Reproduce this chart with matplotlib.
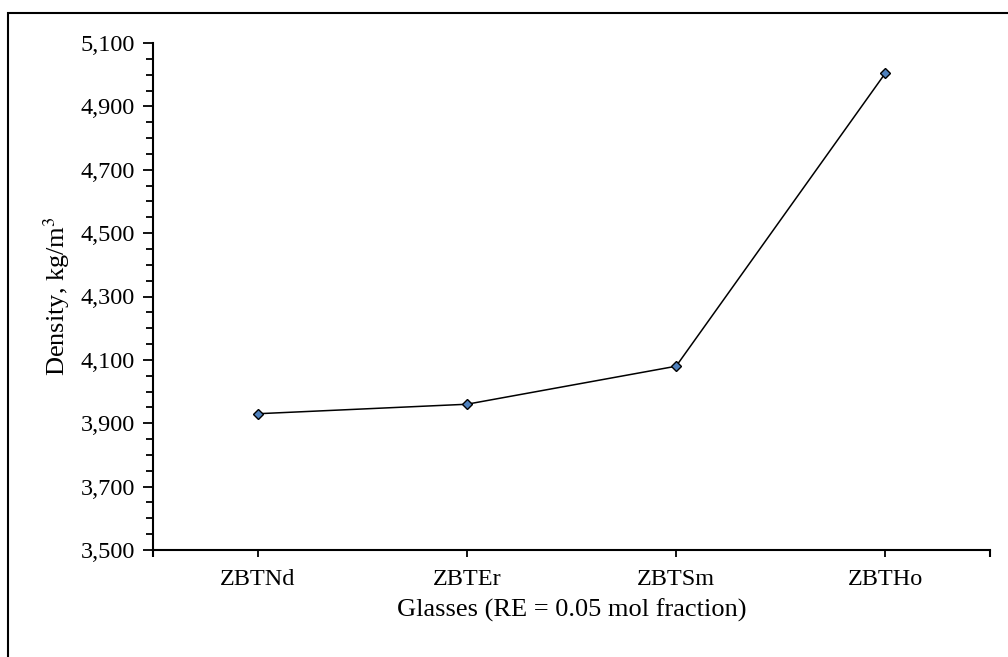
import matplotlib.pyplot as plt
from matplotlib.ticker import MultipleLocator, FuncFormatter
from matplotlib.patches import Rectangle

glasses = ['ZBTNd', 'ZBTEr', 'ZBTSm', 'ZBTHo']
density = [3930, 3960, 4080, 5005]
yticks = [3500, 3700, 3900, 4100, 4300, 4500, 4700, 4900, 5100]

plt.rcParams['font.family'] = ['Liberation Serif', 'DejaVu Serif']
plt.rcParams['mathtext.fontset'] = 'stix'

fig = plt.figure(figsize=(10.08, 6.57), dpi=100)
ax = fig.add_axes([153 / 1008, 1 - 550 / 657, (990 - 153) / 1008, (550 - 43) / 657])

x = range(len(glasses))
ax.plot(x, density, color='black', lw=1.1, marker='D', ms=5,
        markerfacecolor='#4f81bd', markeredgecolor='black', markeredgewidth=1)

ax.set_xlim(-0.5, len(glasses) - 0.5)
ax.set_ylim(yticks[0], yticks[-1])
ax.set_xticks(list(x))
ax.set_xticklabels(glasses)
# end tick at the right of the category axis
ax.set_xticks([-0.5, len(glasses) - 0.5], minor=True)
ax.set_yticks(yticks)
ax.yaxis.set_minor_locator(MultipleLocator(50))
ax.yaxis.set_major_formatter(FuncFormatter(lambda v, p: '{:,.0f}'.format(v)))

for s in ['top', 'right']:
    ax.spines[s].set_visible(False)
for s in ['left', 'bottom']:
    ax.spines[s].set_linewidth(1.5)

ax.tick_params(axis='y', which='major', length=7, width=1.3, labelsize=17.5, pad=6)
ax.tick_params(axis='y', which='minor', length=5, width=1.3)
ax.tick_params(axis='x', which='major', length=5, width=1.3, labelsize=17.5, pad=9)
ax.tick_params(axis='x', which='minor', length=5, width=1.5)

ax.set_xlabel('Glasses (RE = 0.05 mol fraction)', fontsize=19, labelpad=6)
ax.set_ylabel('Density, kg/m$^3$', fontsize=19, labelpad=6)

# frame around the chart area (left and top visible)
fig.patches.append(Rectangle((8 / 1008, -0.1), 1.2, 1 - 13 / 657 + 0.1,
                             transform=fig.transFigure, fill=False,
                             edgecolor='black', lw=1.5))

fig.savefig('out.png', dpi=100)
